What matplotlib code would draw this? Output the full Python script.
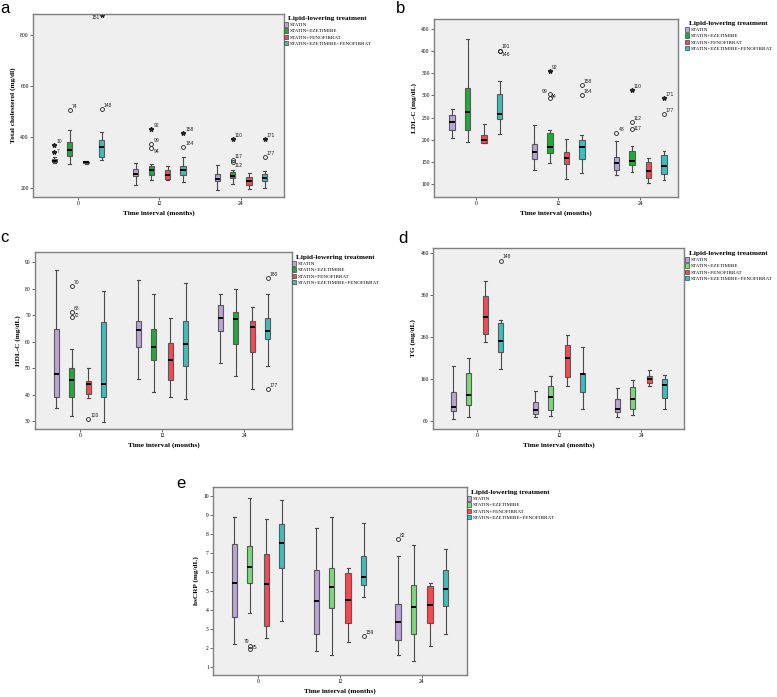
import matplotlib
matplotlib.use('Agg')
import matplotlib.pyplot as plt
from matplotlib.patches import Patch

treatments = ["STATIN", "STATIN+EZETIMIBE", "STATIN+FENOFIBRAT", "STATIN+EZETIMIBE+FENOFIBRAT"]
time_labels = ["0", "12", "24"]

# ---- panel a: Total cholesterol (group-major: 0,12,24 ; treatment-minor) ----
tc_low  = [298, 296, 296, 311, 213, 233, 230, 224, 194, 217, 198, 202]
tc_q1   = [302, 326, 298, 322, 246, 253, 234, 253, 226, 239, 213, 226]
tc_med  = [306, 351, 301, 361, 256, 270, 250, 271, 234, 249, 228, 241]
tc_q3   = [315, 381, 304, 390, 276, 288, 270, 286, 255, 262, 243, 254]
tc_high = [322, 427, 306, 420, 300, 296, 286, 322, 292, 270, 260, 268]
tc_out_group = [0, 0, 0, 0, 0, 1, 1, 1, 1, 1, 2, 2, 2, 2, 2]
tc_out_treat = [0, 0, 1, 3, 3, 1, 1, 1, 3, 3, 1, 1, 1, 3, 3]
tc_out_value = [368, 341, 505, 509, 878, 431, 374, 357, 416, 361, 391, 309, 302, 391, 322]
tc_out_label = ["10", "7", "74", "148", "151", "92", "99", "94", "158", "184", "110", "117", "112", "171", "177"]
tc_out_kind  = ["*", "*", "o", "o", "*", "*", "o", "o", "*", "o", "*", "o", "o", "*", "o"]

# ---- panel b: LDL-C ----
ldl_low  = [203, 194, 192, 214, 132, 148, 111, 124, 120, 127, 102, 110]
ldl_q1   = [222, 221, 192, 246, 156, 171, 146, 157, 131, 143, 113, 123]
ldl_med  = [239, 262, 199, 259, 172, 183, 159, 184, 148, 153, 129, 141]
ldl_q3   = [255, 316, 210, 303, 191, 216, 173, 199, 160, 174, 150, 165]
ldl_high = [269, 427, 235, 332, 233, 223, 201, 210, 198, 187, 158, 174]
ldl_out_group = [0, 0, 1, 1, 1, 1, 1, 2, 2, 2, 2, 2, 2]
ldl_out_treat = [3, 3, 1, 1, 1, 3, 3, 0, 1, 1, 1, 3, 3]
ldl_out_value = [401, 400, 355, 302, 293, 323, 300, 215, 312, 239, 225, 294, 257]
ldl_out_label = ["191", "146", "92", "99", "94", "158", "164", "48", "110", "112", "117", "171", "177"]
ldl_out_kind  = ["o", "o", "*", "o", "o", "o", "o", "o", "*", "o", "o", "*", "o"]

# ---- panel c: HDL-C ----
hdl_low  = [34.9, 31.9, 38.7, 29.8, 45.9, 40.9, 38.9, 38.4, 51.8, 46.9, 42.0, 50.8]
hdl_q1   = [38.9, 38.9, 40.2, 38.9, 57.8, 53.1, 45.5, 50.8, 64.0, 58.9, 56.0, 61.0]
hdl_med  = [47.8, 45.5, 44.0, 44.0, 64.4, 58.0, 52.9, 58.9, 68.9, 68.4, 65.4, 64.0]
hdl_q3   = [64.8, 49.9, 45.2, 67.2, 67.8, 64.8, 59.5, 67.8, 73.9, 71.0, 67.8, 68.8]
hdl_high = [87.1, 57.1, 50.0, 79.0, 83.1, 78.0, 68.9, 82.1, 78.0, 79.9, 73.0, 78.0]
hdl_out_group = [0, 0, 0, 0, 2, 2]
hdl_out_treat = [1, 1, 1, 2, 3, 3]
hdl_out_value = [81.0, 71.1, 69.2, 30.7, 84.0, 42.0]
hdl_out_label = ["70", "68", "72", "120", "180", "177"]
hdl_out_kind  = ["o", "o", "o", "o", "o", "o"]

# ---- panel d: TG ----
tg_low  = [65, 70, 249, 183, 70, 71, 143, 89, 69, 74, 143, 89]
tg_q1   = [85, 97, 268, 225, 76, 87, 166, 128, 82, 89, 150, 114]
tg_med  = [94, 123, 308, 250, 87, 117, 209, 172, 88, 113, 159, 146]
tg_q3   = [128, 174, 357, 293, 105, 143, 241, 174, 112, 140, 167, 159]
tg_high = [191, 210, 394, 300, 131, 167, 265, 237, 138, 157, 181, 169]
tg_out_group = [0]
tg_out_treat = [3]
tg_out_value = [442]
tg_out_label = ["148"]
tg_out_kind  = ["o"]

# ---- panel e: hsCRP ----
crp_low  = [2.24, 3.84, 2.54, 3.44, 1.83, 1.62, 2.32, 4.72, 1.62, 1.34, 2.13, 2.73]
crp_q1   = [3.63, 5.43, 3.14, 6.22, 2.73, 4.14, 3.35, 5.34, 2.45, 2.73, 3.35, 4.23]
crp_med  = [5.43, 6.28, 5.38, 7.53, 4.48, 5.24, 4.56, 5.73, 3.40, 4.19, 4.28, 5.13]
crp_q3   = [7.51, 7.41, 6.96, 8.53, 6.12, 6.21, 5.98, 6.84, 4.34, 5.34, 5.27, 6.12]
crp_high = [8.90, 9.91, 8.82, 9.82, 8.32, 8.90, 6.24, 8.62, 6.84, 7.42, 5.43, 7.21]
crp_out_group = [0, 0, 1, 2]
crp_out_treat = [1, 1, 3, 0]
crp_out_value = [2.13, 1.94, 2.64, 7.74]
crp_out_label = ["79", "75", "159", "82"]
crp_out_kind  = ["o", "o", "o", "o"]

# ---------------- styling ----------------
SERIF = ['Liberation Serif', 'DejaVu Serif']
SANS = ['Liberation Sans', 'DejaVu Sans']
plt.rcParams['font.family'] = SERIF

col_purple = '#BBA2D8'
col_green_dark = '#22A83A'
col_green_light = '#7ADA7A'
col_red = '#F24A4F'
col_teal = '#3DBDBF'

offsets = [-0.29, -0.10, 0.10, 0.29]

fig = plt.figure(figsize=(7.77, 6.97), dpi=100)
W, H = 777.0, 697.0


def axes_px(x0, y0, x1, y1):
    return fig.add_axes([x0 / W, 1 - y1 / H, (x1 - x0) / W, (y1 - y0) / H])


special = {
    ('a', '151'): (-1.5, -3.5, 'right'),
    ('a', '7'): (1.5, -1.5, 'left'),
    ('a', '94'): (1.5, -4.5, 'left'),
    ('a', '112'): (1.5, -4.0, 'left'),
    ('b', '146'): (1.5, -4.5, 'left'),
    ('b', '99'): (-1.5, 0.5, 'right'),
    ('b', '94'): (1.0, -0.5, 'left'),
    ('b', '117'): (1.5, -2.0, 'left'),
    ('c', '72'): (1.5, -0.5, 'left'),
    ('e', '79'): (-0.5, 1.0, 'right'),
    ('e', '75'): (1.2, -0.5, 'left'),
}


def draw_panel(tag, rect, xlim, low, q1, med, q3, high, og, ot, ov, ol, ok,
               colors, ylim, yticks, ylabel, legend_xy):
    ax = axes_px(*rect)
    ax.set_facecolor('#EFEFEF')
    stats, pos, cols = [], [], []
    for g in range(3):
        for t in range(4):
            i = g * 4 + t
            stats.append(dict(whislo=low[i], q1=q1[i], med=med[i], q3=q3[i],
                              whishi=high[i], fliers=[]))
            pos.append(g + offsets[t])
            cols.append(colors[t])
    bp = ax.bxp(stats, positions=pos, widths=0.065, patch_artist=True,
                showfliers=False, manage_ticks=False, capwidths=0.035,
                boxprops=dict(edgecolor='#5A5A5A', linewidth=0.8),
                whiskerprops=dict(color='#4A4A4A', linewidth=0.8),
                capprops=dict(color='#4A4A4A', linewidth=0.8),
                medianprops=dict(color='black', linewidth=1.4))
    for b, c in zip(bp['boxes'], cols):
        b.set_facecolor(c)
    for g, t, v, lab, k in zip(og, ot, ov, ol, ok):
        x = g + offsets[t]
        if k == 'o':
            ax.plot([x], [v], marker='o', ms=2.8, mfc='none', mec='#222222', mew=0.6, ls='none')
        else:
            ax.plot([x], [v], marker='*', ms=3.2, color='#222222', ls='none')
        dx, dy, ha = special.get((tag, lab), (1.5, 0.8, 'left'))
        ax.annotate(lab, (x, v), xytext=(dx, dy), textcoords='offset points',
                    fontsize=3.6, family=SANS, ha=ha, va='bottom', color='#222222')
    ax.set_xlim(*xlim)
    ax.set_ylim(*ylim)
    ax.set_xticks([0, 1, 2])
    ax.set_xticklabels(time_labels)
    ax.set_yticks(yticks)
    ax.tick_params(length=2, width=0.6, color='#555555', labelsize=4, pad=1)
    for s in ax.spines.values():
        s.set_color('#7F7F7F')
        s.set_linewidth(1.0)
    ax.set_ylabel(ylabel, fontsize=5.2, fontweight='bold', labelpad=3)
    ax.set_xlabel("Time interval (months)", fontsize=5.2, fontweight='bold', labelpad=3)
    handles = [Patch(facecolor=c, edgecolor='#444444', linewidth=0.5) for c in colors]
    ax.legend(handles, treatments, title="Lipid-lowering treatment",
              loc='upper left', bbox_to_anchor=(legend_xy[0] / W, 1 - legend_xy[1] / H),
              bbox_transform=fig.transFigure, frameon=False, fontsize=3.7,
              title_fontproperties=dict(size=5.2, weight='bold', family=SERIF),
              handlelength=0.8, handleheight=0.9, handletextpad=0.3,
              labelspacing=0.25, borderpad=0, borderaxespad=0)
    return ax


colors_dark = [col_purple, col_green_dark, col_red, col_teal]
colors_light = [col_purple, col_green_light, col_red, col_teal]

draw_panel('a', (33, 14, 284, 197), (-0.552, 2.528), tc_low, tc_q1, tc_med, tc_q3, tc_high,
           tc_out_group, tc_out_treat, tc_out_value, tc_out_label, tc_out_kind,
           colors_dark, (165, 882), [200, 400, 600, 800], "Total cholesterol (mg/dl)", (284, 16))
draw_panel('b', (434, 19, 678, 197), (-0.51, 2.46), ldl_low, ldl_q1, ldl_med, ldl_q3, ldl_high,
           ldl_out_group, ldl_out_treat, ldl_out_value, ldl_out_label, ldl_out_kind,
           colors_dark, (71, 472), list(range(100, 451, 50)), "LDL-C (mg/dL)", (685, 21))
draw_panel('c', (35, 252, 292, 429), (-0.549, 2.585), hdl_low, hdl_q1, hdl_med, hdl_q3, hdl_high,
           hdl_out_group, hdl_out_treat, hdl_out_value, hdl_out_label, hdl_out_kind,
           colors_dark, (27, 93.8), list(range(30, 91, 10)), "HDL-C (mg/dL)", (292, 255))
draw_panel('d', (433, 248, 684, 429), (-0.537, 2.524), tg_low, tg_q1, tg_med, tg_q3, tg_high,
           tg_out_group, tg_out_treat, tg_out_value, tg_out_label, tg_out_kind,
           colors_light, (41, 472), [60, 160, 260, 360, 460], "TG (mg/dL)", (685, 251))
draw_panel('e', (213, 487, 467, 675), (-0.549, 2.55), crp_low, crp_q1, crp_med, crp_q3, crp_high,
           crp_out_group, crp_out_treat, crp_out_value, crp_out_label, crp_out_kind,
           colors_light, (0.58, 10.5), list(range(1, 11)), "hsCRP (mg/dL)", (467, 490))

for letter, (x, y) in {'a': (0, 13), 'b': (396, 13), 'c': (0, 242), 'd': (398, 243), 'e': (176, 488)}.items():
    fig.text(x / W, 1 - y / H, letter, fontsize=12, family=SANS, va='baseline', ha='left')

fig.savefig('out.png', dpi=100)
